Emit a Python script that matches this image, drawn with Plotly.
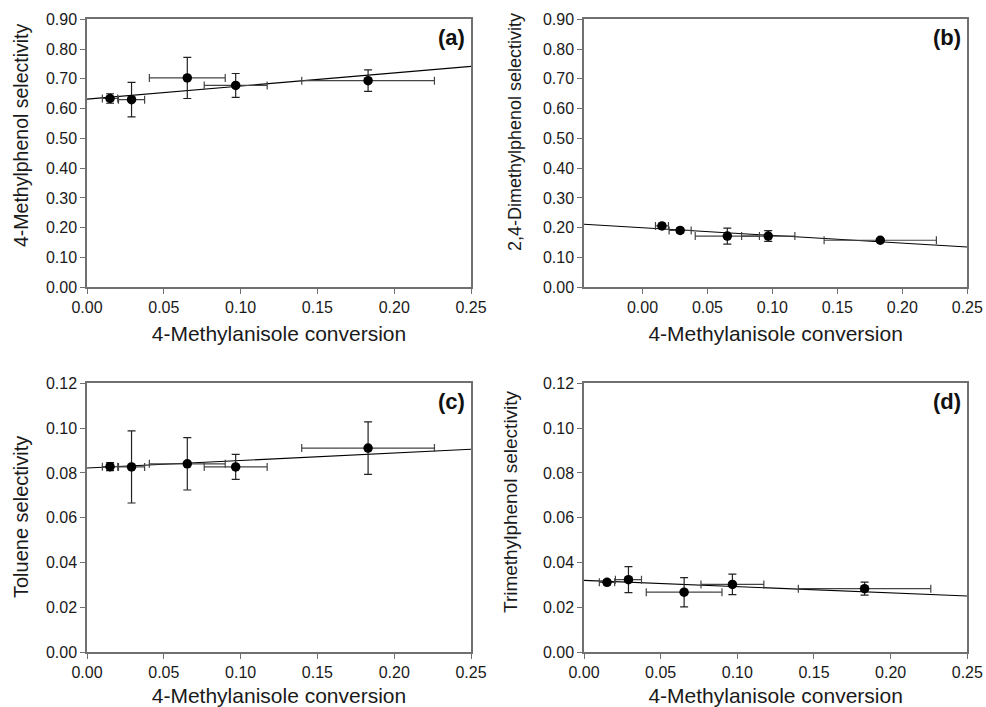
import numpy as np
import plotly.graph_objects as go

# Data
conversion = [0.015, 0.029, 0.0653, 0.0968, 0.1830]
conversion_err = [0.005, 0.0085, 0.0247, 0.0205, 0.0432]

sel_methylphenol = [0.634, 0.630, 0.703, 0.678, 0.694]
err_methylphenol = [0.016, 0.058, 0.069, 0.040, 0.036]

sel_dimethylphenol = [0.206, 0.191, 0.172, 0.172, 0.158]
err_dimethylphenol = [0.005, 0.008, 0.027, 0.018, 0.004]

sel_toluene = [0.0828, 0.0827, 0.0841, 0.0827, 0.0911]
err_toluene = [0.0018, 0.0161, 0.0117, 0.0056, 0.0117]

sel_trimethylphenol = [0.0312, 0.0324, 0.0268, 0.0303, 0.0284]
err_trimethylphenol = [0.0010, 0.0058, 0.0065, 0.0046, 0.0029]

# linear fit parameters (intercept, slope)
fit_a = [0.632, 0.440]
fit_b = [0.200, -0.258]
fit_c = [0.0822, 0.0336]
fit_d = [0.0321, -0.028]

panel_labels = ["(a)", "(b)", "(c)", "(d)"]
y_titles = ["4-Methylphenol selectivity", "2,4-Dimethylphenol selectivity",
            "Toluene selectivity", "Trimethylphenol selectivity"]
x_title = "4-Methylanisole conversion"

x_ranges = [[0, 0.25], [-0.045, 0.25], [0, 0.25], [0, 0.25]]
y_ranges = [[0, 0.9], [0, 0.9], [0, 0.12], [0, 0.12]]
y_dticks = [0.1, 0.1, 0.02, 0.02]

series = [(sel_methylphenol, err_methylphenol, fit_a),
          (sel_dimethylphenol, err_dimethylphenol, fit_b),
          (sel_toluene, err_toluene, fit_c),
          (sel_trimethylphenol, err_trimethylphenol, fit_d)]

W, H = 986, 707


def dx(a, b):
    return [a / W, b / W]


def dy(top, bottom):
    return [1 - bottom / H, 1 - top / H]


xdom = [dx(87, 471), dx(584, 967.3)]
ydom_top = dy(19.3, 287.3)
ydom_bot = dy(383.3, 652.3)
domains = [(xdom[0], ydom_top), (xdom[1], ydom_top), (xdom[0], ydom_bot), (xdom[1], ydom_bot)]
# y-title centres in pixels (x, y) and font sizes
ytitle_pos = [(21, 135), (515, 132), (21, 517), (510, 502)]
ytitle_size = [19.5, 18, 20, 19]

fig = go.Figure()
axis_color = "#707070"
text_color = "#1a1a1a"
font_family = "Liberation Sans, Arial, sans-serif"

for i, ((yv, ye, fit), (xd, yd)) in enumerate(zip(series, domains)):
    n = "" if i == 0 else str(i + 1)
    xa, ya = "x" + n, "y" + n
    xr = x_ranges[i]
    fx = np.array(xr)
    fy = fit[0] + fit[1] * fx
    fig.add_trace(go.Scatter(x=fx, y=fy, mode="lines", line=dict(color="black", width=1.1),
                             xaxis=xa, yaxis=ya, showlegend=False, hoverinfo="skip"))
    fig.add_trace(go.Scatter(
        x=conversion, y=yv, mode="markers",
        marker=dict(color="black", size=9.5),
        error_y=dict(type="data", array=ye, color="#222222", thickness=1.2, width=4),
        error_x=dict(type="data", array=conversion_err, color="#444444", thickness=1.2, width=4),
        xaxis=xa, yaxis=ya, showlegend=False))
    fig.layout["xaxis" + n] = dict(
        domain=xd, anchor=ya, range=xr, tickmode="array", automargin=False,
        tickvals=[0, 0.05, 0.1, 0.15, 0.2, 0.25], tickformat=".2f",
        showgrid=False, zeroline=False, showline=True, linecolor=axis_color, linewidth=1.5,
        mirror=True, ticks="outside", ticklen=5, tickcolor=axis_color,
        tickfont=dict(size=16, color=text_color, family=font_family),
        title=dict(text=x_title, font=dict(size=21, color=text_color, family=font_family), standoff=11))
    fig.layout["yaxis" + n] = dict(
        domain=yd, anchor=xa, range=y_ranges[i], dtick=y_dticks[i], tick0=0, tickformat=".2f",
        automargin=False,
        showgrid=False, zeroline=False, showline=True, linecolor=axis_color, linewidth=1.5,
        mirror=True, ticks="outside", ticklen=5, tickcolor=axis_color,
        tickfont=dict(size=16, color=text_color, family=font_family))
    px_, py_ = ytitle_pos[i]
    fig.add_annotation(text=y_titles[i], xref="paper", yref="paper", x=px_ / W, y=1 - py_ / H,
                       xanchor="center", yanchor="middle", textangle=-90, showarrow=False,
                       font=dict(size=ytitle_size[i], color=text_color, family=font_family))
    fig.add_annotation(text="<b>" + panel_labels[i] + "</b>", xref=xa + " domain", yref=ya + " domain",
                       x=0.99, y=0.985, xanchor="right", yanchor="top", showarrow=False,
                       font=dict(size=22, color="#111", family=font_family))

fig.update_layout(width=W, height=H, margin=dict(l=0, r=0, t=0, b=0),
                  paper_bgcolor="white", plot_bgcolor="white",
                  font=dict(family=font_family))
fig.write_html("out.html", config={"displayModeBar": False},
               post_script="document.body.style.margin='0';document.body.style.overflow='hidden';")
